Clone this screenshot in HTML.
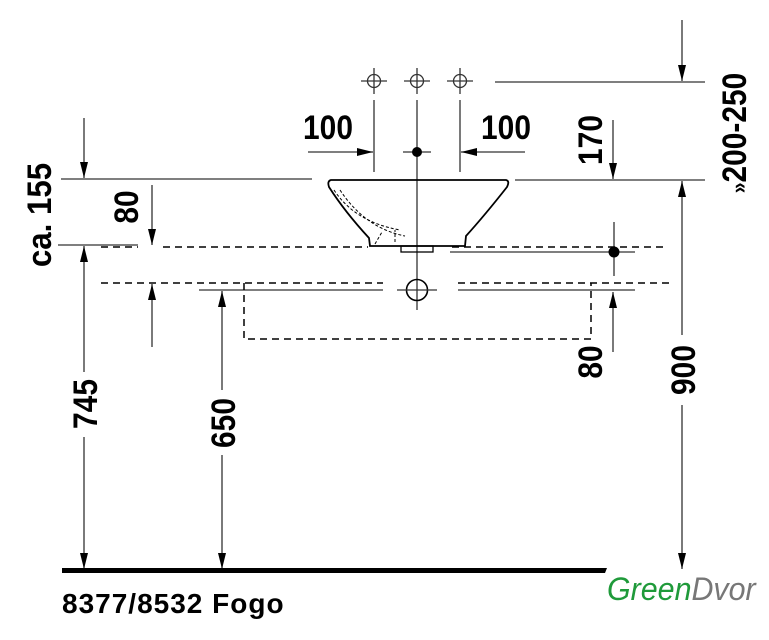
<!DOCTYPE html>
<html><head><meta charset="utf-8"><style>
html,body{margin:0;padding:0;background:#fff;width:769px;height:640px;overflow:hidden}
svg{display:block}
text{font-family:"Liberation Sans",Arial,sans-serif;font-weight:bold;fill:#000}
</style></head><body>
<svg width="769" height="640" viewBox="0 0 769 640" xmlns="http://www.w3.org/2000/svg">
<defs>
<marker id="a" viewBox="0 0 16 8" refX="16" refY="4" markerWidth="16" markerHeight="8" markerUnits="userSpaceOnUse" orient="auto"><path d="M0,0 L16,4 L0,8 Z" fill="#000"/></marker>
</defs>
<g stroke="#333" stroke-width="1.3" fill="none">
<circle cx="374" cy="81" r="6.5"/><circle cx="417" cy="81" r="6.5"/><circle cx="460" cy="81" r="6.5"/>
<path d="M361,81H387M374,68V94M404,81H430M417,68V94M447,81H473M460,68V94"/>
<path d="M374,100V172M460,100V172M417,100V310"/>
<path d="M495,82H705"/>
<path d="M308,152H373" marker-end="url(#a)"/>
<path d="M525,152H461" marker-end="url(#a)"/>
<path d="M403,152H431"/>
<path d="M682,20V81" marker-end="url(#a)"/>
<path d="M682,335V181" marker-end="url(#a)"/>
<path d="M682,405V569" marker-end="url(#a)"/>
<path d="M515,180H705"/>
<path d="M613,120V179" marker-end="url(#a)"/>
<path d="M614,222V276"/>
<path d="M450,252H635"/>
<path d="M613,352V292" marker-end="url(#a)"/>
<path d="M61,179H312"/>
<path d="M84,118V178" marker-end="url(#a)"/>
<path d="M58,245H138"/>
<path d="M152,185V245" marker-end="url(#a)"/>
<path d="M152,347V284" marker-end="url(#a)"/>
<path d="M84,372V246" marker-end="url(#a)"/>
<path d="M84,437V569" marker-end="url(#a)"/>
<path d="M222,390V291" marker-end="url(#a)"/>
<path d="M222,455V569" marker-end="url(#a)"/>
<path d="M199,290H383M458,290H635"/>
<circle cx="417" cy="290" r="10.5" stroke-width="1.6" stroke="#000"/>
<path d="M397,290H437"/>
</g>
<g stroke="#000" stroke-width="1.5" fill="none" stroke-dasharray="7,5">
<path d="M101,247H138M163,247H368M452,247H668"/>
<path d="M101,283H383M458,283H672"/>
<path d="M244,283V339H591V283"/>
<path d="M334,190Q355,222 400,230M340,190Q365,228 405,236M375,244L382,232M395,242V230" stroke-dasharray="3,2" stroke-width="1"/>
</g>
<path d="M331,180H506Q510,181 507,187Q485,215 466,236L465,246H370L369,238Q345,212 329,187Q327,181 331,180Z" fill="none" stroke="#000" stroke-width="1.8"/>
<rect x="401" y="246" width="32" height="6" fill="none" stroke="#000" stroke-width="1.3"/>
<circle cx="417" cy="152" r="5" fill="#000"/>
<circle cx="614" cy="252" r="5.5" fill="#000"/>
<path d="M62,568H607L605,573H62Z" fill="#000"/>
<g font-size="34">
<text transform="translate(328,139) scale(0.88,1)" text-anchor="middle">100</text>
<text transform="translate(506,139) scale(0.88,1)" text-anchor="middle">100</text>
<text transform="translate(51,215) rotate(-90) scale(0.92,1)" text-anchor="middle">ca. 155</text>
<text transform="translate(138,207) rotate(-90) scale(0.88,1)" text-anchor="middle">80</text>
<text transform="translate(97,404) rotate(-90) scale(0.88,1)" text-anchor="middle">745</text>
<text transform="translate(235,423) rotate(-90) scale(0.88,1)" text-anchor="middle">650</text>
<text transform="translate(602,140) rotate(-90) scale(0.88,1)" text-anchor="middle">170</text>
<text transform="translate(602,362) rotate(-90) scale(0.88,1)" text-anchor="middle">80</text>
<text transform="translate(695,370) rotate(-90) scale(0.88,1)" text-anchor="middle">900</text>
<text transform="translate(746,133) rotate(-90) scale(0.88,1)" text-anchor="middle"><tspan font-size="22">»</tspan>200-250</text>
</g>
<text transform="translate(62,613)" font-size="28" letter-spacing="1">8377/8532 Fogo</text>
<text transform="translate(607,600) scale(0.95,1)" font-size="32" font-style="italic" style="font-weight:normal"><tspan fill="#1f9a3a">Green</tspan><tspan fill="#777">Dvor</tspan></text>
</svg>
</body></html>
